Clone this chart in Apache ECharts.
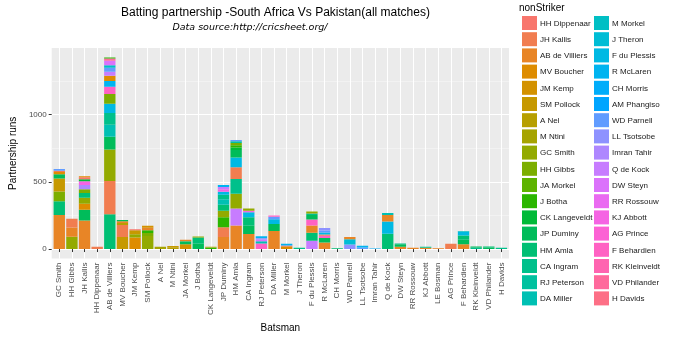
<!DOCTYPE html>
<html><head><meta charset="utf-8">
<script src="https://cdn.jsdelivr.net/npm/echarts@6/dist/echarts.min.js"></script>
<style>html,body{margin:0;padding:0;background:#fff}#c{width:676px;height:338px}</style>
</head><body><div id="c"></div>
<script>
const batsmen = ["GC Smith","HH Gibbs","JH Kallis","HH Dippenaar","AB de Villiers","MV Boucher","JM Kemp","SM Pollock","A Nel","M Ntini","JA Morkel","J Botha","CK Langeveldt","JP Duminy","HM Amla","CA Ingram","RJ Peterson","DA Miller","M Morkel","J Theron","F du Plessis","R McLaren","CH Morris","WD Parnell","LL Tsotsobe","Imran Tahir","Q de Kock","DW Steyn","RR Rossouw","KJ Abbott","LE Bosman","AG Prince","F Behardien","RK Kleinveldt","VD Philander","H Davids"];

const nonStrikers = ["HH Dippenaar","JH Kallis","AB de Villiers","MV Boucher","JM Kemp","SM Pollock","A Nel","M Ntini","GC Smith","HH Gibbs","JA Morkel","J Botha","CK Langeveldt","JP Duminy","HM Amla","CA Ingram","RJ Peterson","DA Miller","M Morkel","J Theron","F du Plessis","R McLaren","CH Morris","AM Phangiso","WD Parnell","LL Tsotsobe","Imran Tahir","Q de Kock","DW Steyn","RR Rossouw","KJ Abbott","AG Prince","F Behardien","RK Kleinveldt","VD Philander","H Davids"];

// stacked segments per batsman, bottom to top
const stackPartners = [
  ["AB de Villiers","HM Amla","HH Gibbs","SM Pollock","JP Duminy","MV Boucher","JH Kallis","WD Parnell"],
  ["GC Smith","AB de Villiers","JH Kallis"],
  ["AB de Villiers","JP Duminy","MV Boucher","GC Smith","HM Amla","HH Gibbs","Imran Tahir","KJ Abbott","CK Langeveldt","HH Dippenaar","MV Boucher"],
  ["JH Kallis"],
  ["HM Amla","JH Kallis","GC Smith","JP Duminy","DA Miller","CA Ingram","F du Plessis","HH Gibbs","F Behardien","R McLaren","MV Boucher","Q de Kock","WD Parnell","M Morkel","DW Steyn","VD Philander","J Botha"],
  ["SM Pollock","JH Kallis","A Nel","AB de Villiers","JP Duminy"],
  ["MV Boucher","GC Smith","SM Pollock","HH Dippenaar"],
  ["GC Smith","HH Gibbs","J Botha","AB de Villiers","JM Kemp"],
  ["M Ntini"],
  ["A Nel","SM Pollock"],
  ["JM Kemp","JP Duminy","HM Amla","AB de Villiers"],
  ["JP Duminy","HM Amla","GC Smith"],
  ["J Botha","A Nel"],
  ["AB de Villiers","JH Kallis","J Botha","GC Smith","HM Amla","DA Miller","CA Ingram","F du Plessis","KJ Abbott","Q de Kock","R McLaren"],
  ["AB de Villiers","Q de Kock","GC Smith","CA Ingram","JH Kallis","F du Plessis","JP Duminy","CK Langeveldt","J Botha","HH Gibbs","RJ Peterson","WD Parnell"],
  ["AB de Villiers","JP Duminy","HM Amla","F du Plessis","KJ Abbott","GC Smith"],
  ["F Behardien","DA Miller","DW Steyn","Imran Tahir","R McLaren"],
  ["AB de Villiers","JP Duminy","F du Plessis","WD Parnell","F Behardien"],
  ["MV Boucher","RK Kleinveldt","R McLaren"],
  ["CA Ingram"],
  ["Q de Kock","HM Amla","AB de Villiers","F Behardien","JP Duminy","CA Ingram","GC Smith"],
  ["AB de Villiers","JP Duminy","F Behardien","JH Kallis","F du Plessis","WD Parnell","LL Tsotsobe"],
  ["HM Amla"],
  ["LL Tsotsobe","J Theron","AB de Villiers"],
  ["WD Parnell","R McLaren"],
  ["CH Morris"],
  ["HM Amla","F du Plessis","AB de Villiers","DA Miller"],
  ["AB de Villiers","JP Duminy","CA Ingram"],
  ["AB de Villiers"],
  ["AB de Villiers","CA Ingram"],
  ["AB de Villiers"],
  ["JH Kallis"],
  ["AB de Villiers","JP Duminy","HM Amla","F du Plessis","DA Miller"],
  ["CA Ingram","JP Duminy"],
  ["JP Duminy","HM Amla"],
  ["CA Ingram"]
];
const stackRuns = [
  [253,103,73,95,32,17,10,12],
  [92,68,65],
  [212,81,44,44,36,27,32,29,15,14,7],
  [17],
  [258,249,234,95,88,88,69,73,54,42,40,29,30,19,32,18,7],
  [90,88,15,14,10],
  [85,25,29,9],
  [97,22,20,19,15],
  [18],
  [14,9],
  [35,17,6,12],
  [40,45,8],
  [12,5],
  [90,73,73,49,44,41,33,24,17,17,15],
  [176,126,110,110,86,73,56,19,17,15,14,10],
  [112,62,62,37,12,17],
  [41,17,12,11,14],
  [134,53,34,20,8],
  [20,7,12],
  [10],
  [61,61,54,44,33,11,16],
  [48,35,15,10,15,15,18],
  [6],
  [34,39,17],
  [12,12],
  [5],
  [114,91,48,15],
  [17,18,6],
  [10],
  [10,7],
  [6],
  [40],
  [35,35,30,30,5],
  [12,7],
  [12,7],
  [10]
];
const yTicks = [0, 500, 1000];
const yMinorTicks = [250, 750, 1250];

// ggplot2 default hue palette (hcl, c=100, l=65)
function hcl2hex(h, c, l) {
  const WU = 0.1978398, WV = 0.4683363;
  const hr = h * Math.PI / 180;
  const U = c * Math.cos(hr), V = c * Math.sin(hr);
  const Y = 100 * (l > 7.999592 ? Math.pow((l + 16) / 116, 3) : l / 903.3);
  const u = U / (13 * l) + WU, v = V / (13 * l) + WV;
  const X = 9.0 * Y * u / (4 * v);
  const Z = -X / 3 - 5 * Y + 3 * Y / v;
  const g = t => { t = t > 0.00304 ? 1.055 * Math.pow(t, 1 / 2.4) - 0.055 : 12.92 * t; return Math.max(0, Math.min(1, t)); };
  const x = X / 100, y = Y / 100, z = Z / 100;
  const r = g(3.240479 * x - 1.537150 * y - 0.498535 * z);
  const gg = g(-0.969256 * x + 1.875992 * y + 0.041556 * z);
  const b = g(0.055648 * x - 0.204043 * y + 1.057311 * z);
  const hx = n => ('0' + Math.round(n * 255).toString(16)).slice(-2);
  return '#' + hx(r) + hx(gg) + hx(b);
}
const n = nonStrikers.length;
const palette = nonStrikers.map((_, i) => hcl2hex(15 + i * 350 / (n - 1), 100, 65));

const segData = [];
batsmen.forEach((b, bi) => {
  let cum = 0;
  stackPartners[bi].forEach((p, k) => {
    const r = stackRuns[bi][k];
    segData.push([bi + 1, cum, cum + r, nonStrikers.indexOf(p)]);
    cum += r;
  });
});

const FONT = 'Liberation Sans, Arial, sans-serif';
const xPos = batsmen.map((_, i) => i + 1);

// legend (two columns, ggplot style)
const legendGraphics = [];
nonStrikers.forEach((name, i) => {
  const col = i < 18 ? 0 : 1, row = i % 18;
  const kx = col ? 594 : 522, ky = 16 + row * 16.2;
  legendGraphics.push({type: 'rect', shape: {x: kx, y: ky, width: 15, height: 14}, style: {fill: palette[i]}, silent: true});
  legendGraphics.push({type: 'text', x: kx + 18, y: ky + 7.5, style: {text: name, align: 'left', verticalAlign: 'middle', fontSize: 8, fontFamily: FONT, fill: '#1a1a1a'}, silent: true});
});

const chart = echarts.init(document.getElementById('c'), null, {renderer: 'canvas'});
chart.setOption({
  animation: false,
  backgroundColor: '#ffffff',
  grid: {left: 42, top: 48, width: 467, height: 214, show: true, backgroundColor: '#EBEBEB', borderWidth: 0},
  xAxis: {
    type: 'value', min: 0.4, max: 36.6,
    name: 'Batsman', nameLocation: 'middle', nameGap: 62,
    nameTextStyle: {fontSize: 10, color: '#000', fontFamily: FONT},
    axisLine: {show: false},
    axisTick: {show: true, customValues: xPos, length: 3, lineStyle: {color: '#333', width: 1}},
    axisLabel: {customValues: xPos, rotate: 90, fontSize: 8, color: '#4D4D4D', fontFamily: FONT, margin: 4,
      formatter: v => batsmen[Math.round(v) - 1] || ''},
    splitLine: {show: true, lineStyle: {color: '#ffffff', width: 1}}
  },
  yAxis: [{
    type: 'value', min: -71.2, max: 1495.6,
    name: 'Partnership runs', nameLocation: 'middle', nameGap: 26,
    nameTextStyle: {fontSize: 10, color: '#000', fontFamily: FONT},
    axisLine: {show: false},
    axisTick: {show: true, customValues: yTicks, length: 3, lineStyle: {color: '#333', width: 1}},
    axisLabel: {customValues: yTicks, fontSize: 8, color: '#4D4D4D', fontFamily: FONT, margin: 5,
      formatter: v => String(Math.round(v))},
    splitLine: {show: true, lineStyle: {color: '#ffffff', width: 1}}
  }, {
    type: 'value', min: -71.2, max: 1495.6, position: 'left',
    axisLine: {show: false},
    axisTick: {show: false, customValues: yMinorTicks},
    axisLabel: {show: false, customValues: yMinorTicks},
    splitLine: {show: true, lineStyle: {color: '#F7F7F7', width: 0.6}}
  }],
  graphic: [
    {type: 'text', x: 275.5, y: 13, style: {text: 'Batting partnership -South Africa Vs Pakistan(all matches)', align: 'center', verticalAlign: 'middle', fontSize: 12, fontFamily: FONT, fill: '#000'}},
    {type: 'text', x: 250, y: 28, style: {text: 'Data source:http://cricsheet.org/', align: 'center', verticalAlign: 'middle', fontSize: 9.5, fontStyle: 'italic', fontFamily: 'DejaVu Sans, sans-serif', fill: '#000'}},
    {type: 'text', x: 519, y: 8, style: {text: 'nonStriker', align: 'left', verticalAlign: 'middle', fontSize: 10, fontFamily: FONT, fill: '#000'}}
  ].concat(legendGraphics),
  series: [{
    type: 'custom', name: 'partnerships', xAxisIndex: 0, yAxisIndex: 0,
    encode: {x: 0, y: [1, 2]},
    data: segData, clip: true,
    renderItem: (params, api) => {
      const x = api.value(0), y0 = api.value(1), y1 = api.value(2), ci = api.value(3);
      const p0 = api.coord([x, y0]), p1 = api.coord([x, y1]);
      const w = api.size([0.9, 0])[0];
      return {type: 'rect', shape: {x: p0[0] - w / 2, y: p1[1], width: w, height: p0[1] - p1[1]}, style: {fill: palette[ci]}};
    }
  }]
});
</script></body></html>
